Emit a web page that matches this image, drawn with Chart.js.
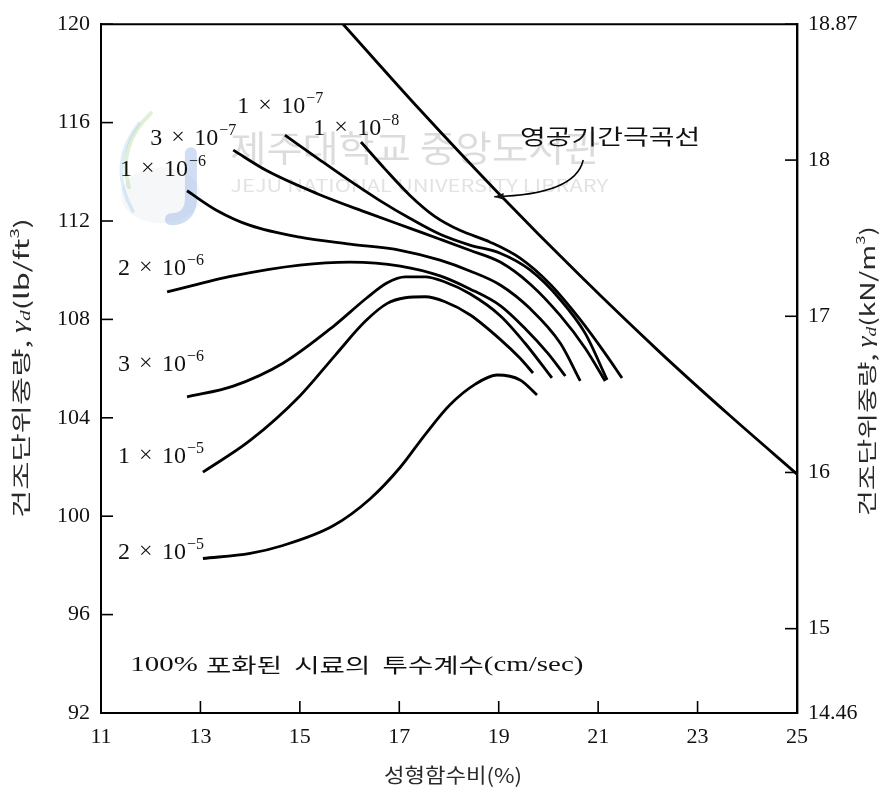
<!DOCTYPE html>
<html><head><meta charset="utf-8">
<script src="https://cdn.jsdelivr.net/npm/chart.js@4.4.0/dist/chart.umd.min.js"></script>
<style>html,body{margin:0;padding:0;background:#fff;}#wrap{width:892px;height:795px;position:relative;}</style>
</head><body><div id="wrap"><canvas id="c" width="892" height="795"></canvas></div>
<script>
// ---- data ----
const xTicks = [11, 13, 15, 17, 19, 21, 23, 25];
const yLeftTicks = [92, 96, 100, 104, 108, 112, 116, 120];
const yRightTicks = [14.46, 15, 16, 17, 18, 18.87];

const zavX = [15.87, 17.42, 18.97, 20.64, 22.25, 23.66, 25.0];
const zavY = [120.0, 116.51, 113.18, 109.77, 106.65, 104.07, 101.71];

const k1e8X = [16.23, 16.71, 17.22, 17.72, 18.22, 18.83, 19.43, 20.03, 20.64, 21.14, 21.48];
const k1e8Y = [115.21, 114.12, 113.03, 112.18, 111.62, 111.14, 110.49, 109.44, 107.99, 106.62, 105.62];

const k1e7X = [14.70, 15.35, 16.01, 16.61, 17.22, 17.82, 18.42, 19.03, 19.63, 20.24, 20.74, 21.18];
const k1e7Y = [115.49, 114.56, 113.63, 112.83, 112.10, 111.46, 111.02, 110.69, 110.01, 108.80, 107.43, 105.54];

const k3e7X = [13.66, 14.34, 15.35, 16.35, 17.22, 17.82, 18.42, 19.03, 19.63, 20.24, 20.74, 21.14];
const k3e7Y = [114.88, 114.04, 113.11, 112.34, 111.70, 111.26, 110.81, 110.33, 109.44, 108.15, 106.83, 105.50];

const k1e6X = [12.73, 13.33, 14.00, 15.00, 16.01, 17.02, 17.82, 18.42, 19.03, 19.63, 20.24, 20.64];
const k1e6Y = [113.23, 112.43, 111.82, 111.34, 111.06, 110.81, 110.41, 109.97, 109.40, 108.44, 107.03, 105.50];

const k2e6X = [12.33, 13.66, 15.00, 16.01, 17.02, 17.82, 18.42, 19.03, 19.53, 19.99, 20.34];
const k2e6Y = [109.12, 109.77, 110.21, 110.33, 110.17, 109.77, 109.24, 108.56, 107.63, 106.62, 105.70];

const k3e6X = [12.73, 13.66, 14.66, 15.67, 16.35, 16.75, 17.12, 17.52, 17.92, 18.42, 19.03, 19.53, 20.07];
const k3e6Y = [104.85, 105.29, 106.22, 107.71, 108.88, 109.48, 109.73, 109.73, 109.52, 109.04, 108.15, 107.03, 105.62];

const k1e5X = [13.05, 14.00, 15.00, 15.71, 16.31, 16.75, 17.12, 17.52, 17.92, 18.42, 19.03, 19.43, 19.69];
const k1e5Y = [101.79, 103.08, 104.89, 106.54, 107.91, 108.64, 108.88, 108.92, 108.72, 108.19, 107.19, 106.42, 105.82];

const k2e5X = [13.05, 14.00, 14.66, 15.67, 16.41, 17.02, 17.52, 18.02, 18.53, 18.97, 19.43, 19.77];
const k2e5Y = [98.28, 98.49, 98.81, 99.61, 100.70, 101.99, 103.32, 104.53, 105.37, 105.74, 105.54, 104.93];

// curve labels: coefficient, exponent
const permLabels = [
  ['1', '7'], ['1', '8'], ['3', '7'], ['1', '6'],
  ['2', '6'], ['3', '6'], ['1', '5'], ['2', '5']
];

// ---- build ----
const pts = (xs, ys) => xs.map((x, i) => ({ x: x, y: ys[i] }));
const series = [
  [zavX, zavY], [k1e8X, k1e8Y], [k1e7X, k1e7Y], [k3e7X, k3e7Y], [k1e6X, k1e6Y],
  [k2e6X, k2e6Y], [k3e6X, k3e6Y], [k1e5X, k1e5Y], [k2e5X, k2e5Y]
];
const datasets = series.map(s => ({
  data: pts(s[0], s[1]),
  showLine: true,
  borderColor: '#000',
  borderWidth: 2.8,
  pointRadius: 0,
  cubicInterpolationMode: 'monotone',
  fill: false
}));

const SERIF = '"Liberation Serif", "Times New Roman", serif';
const KR = '"Noto Sans CJK KR", "Noto Sans", sans-serif';

function measureParts(ctx, parts) {
  let total = 0;
  parts.forEach(p => { ctx.font = p.font; p.w = ctx.measureText(p.t).width; total += p.w + (p.gap || 0); });
  return total;
}
function drawStretched(ctx, parts, x, y, targetW, align) {
  const total = measureParts(ctx, parts);
  const sx = targetW / total;
  ctx.save();
  ctx.translate(x, y);
  ctx.scale(sx, 1);
  let cx = align === 'center' ? -total / 2 : 0;
  parts.forEach(p => {
    ctx.font = p.font;
    ctx.fillText(p.t, cx, p.dy || 0);
    cx += p.w + (p.gap || 0);
  });
  ctx.restore();
}

// label anchor positions (data units), in the same order as permLabels
const permPos = [
  [13.74, 116.70], [15.27, 115.81], [11.99, 115.41], [11.38, 114.16],
  [11.34, 110.13], [11.34, 106.22], [11.34, 102.47], [11.34, 98.57]
];

const decor = {
  id: 'decor',
  beforeDatasetsDraw(chart) {
    const { ctx, scales: { x, y } } = chart;
    ctx.save();
    // faint library logo
    const bx = x.getPixelForValue(11.4), by = y.getPixelForValue(116.3);
    ctx.fillStyle = 'rgba(215,218,228,0.22)';
    ctx.beginPath(); ctx.ellipse(bx + 40, by + 80, 40, 28, 0, 0, Math.PI * 2); ctx.fill();
    ctx.lineCap = 'round';
    ctx.strokeStyle = 'rgba(170,210,140,0.35)';
    ctx.lineWidth = 4;
    ctx.beginPath(); ctx.moveTo(bx + 30, by - 2); ctx.quadraticCurveTo(bx - 4, by + 30, bx + 8, by + 72); ctx.stroke();
    ctx.strokeStyle = 'rgba(150,200,235,0.32)';
    ctx.lineWidth = 3.5;
    ctx.beginPath(); ctx.moveTo(bx + 18, by + 8); ctx.quadraticCurveTo(bx - 14, by + 50, bx + 12, by + 96); ctx.stroke();
    ctx.strokeStyle = 'rgba(120,160,220,0.35)';
    ctx.lineWidth = 12;
    ctx.beginPath();
    ctx.moveTo(bx + 70, by + 38); ctx.lineTo(bx + 70, by + 86);
    ctx.quadraticCurveTo(bx + 68, by + 104, bx + 50, by + 104);
    ctx.stroke();

    ctx.textBaseline = 'middle';
    ctx.fillStyle = 'rgba(150,150,150,0.33)';
    drawStretched(ctx, [{ t: '제주대학교 중앙도서관', font: '36px ' + KR }],
      x.getPixelForValue(13.60), y.getPixelForValue(114.96), 370);
    ctx.fillStyle = 'rgba(150,150,150,0.28)';
    drawStretched(ctx, [{ t: 'JEJU NATIONAL UNIVERSITY LIBRARY', font: '17px ' + KR }],
      x.getPixelForValue(13.60), y.getPixelForValue(113.43), 378);
    ctx.restore();
  },
  afterDraw(chart) {
    const { ctx, chartArea: a, scales: { x, y, y2 } } = chart;
    ctx.save();
    ctx.strokeStyle = '#000';
    ctx.lineWidth = 2;
    ctx.beginPath(); ctx.moveTo(a.left - 1, a.top); ctx.lineTo(a.right + 1, a.top); ctx.stroke();
    ctx.lineWidth = 1.6;
    xTicks.forEach(v => {
      const px = x.getPixelForValue(v);
      ctx.beginPath(); ctx.moveTo(px, a.bottom); ctx.lineTo(px, a.bottom - 12); ctx.stroke();
    });
    yLeftTicks.forEach(v => {
      const py = y.getPixelForValue(v);
      ctx.beginPath(); ctx.moveTo(a.left, py); ctx.lineTo(a.left + 12, py); ctx.stroke();
    });
    yRightTicks.forEach(v => {
      const py = y2.getPixelForValue(v);
      ctx.beginPath(); ctx.moveTo(a.right, py); ctx.lineTo(a.right - 12, py); ctx.stroke();
    });

    // permeability labels
    ctx.fillStyle = '#111';
    ctx.textBaseline = 'alphabetic';
    permLabels.forEach((l, i) => {
      const px = x.getPixelForValue(permPos[i][0]);
      const py = y.getPixelForValue(permPos[i][1]) + 8;
      ctx.font = '24px ' + SERIF;
      ctx.fillText(l[0], px, py);
      ctx.fillText('×', px + 21, py - 1);
      ctx.fillText('10', px + 44, py);
      ctx.font = '16px ' + SERIF;
      ctx.fillText('−' + l[1], px + 69, py - 10);
    });

    // note text
    ctx.textBaseline = 'middle';
    drawStretched(ctx, [
      { t: '100%', font: '21px ' + SERIF, gap: 6 },
      { t: '포화된  시료의  투수계수', font: '20px ' + KR },
      { t: '(cm/sec)', font: '21px ' + SERIF }
    ], x.getPixelForValue(11.59), y.getPixelForValue(93.95), 453);

    // zero-air-void label + arrow
    drawStretched(ctx, [{ t: '영공기간극곡선', font: '21px ' + KR }],
      x.getPixelForValue(19.43), y.getPixelForValue(115.45), 180);
    const sx = x.getPixelForValue(20.70), sy = y.getPixelForValue(114.48);
    const cxp = x.getPixelForValue(20.54), cyp = y.getPixelForValue(113.07);
    const ex = x.getPixelForValue(18.91), ey = y.getPixelForValue(112.99);
    ctx.lineWidth = 1.5;
    ctx.beginPath(); ctx.moveTo(sx, sy); ctx.quadraticCurveTo(cxp, cyp, ex, ey); ctx.stroke();
    const ang = Math.atan2(ey - cyp, ex - cxp);
    ctx.beginPath();
    ctx.moveTo(ex, ey);
    ctx.lineTo(ex - 10 * Math.cos(ang - 0.35), ey - 10 * Math.sin(ang - 0.35));
    ctx.lineTo(ex - 10 * Math.cos(ang + 0.35), ey - 10 * Math.sin(ang + 0.35));
    ctx.closePath(); ctx.fill();

    // axis titles
    ctx.fillStyle = '#2a2a2a';
    ctx.textBaseline = 'middle';
    const titleParts = unit => [
      { t: '건조단위중량, ', font: '20px ' + KR },
      { t: 'γ', font: 'italic 20px ' + SERIF },
      { t: 'd', font: 'italic 14px ' + SERIF, dy: 5 },
      { t: '(' + unit, font: '20px ' + KR },
      { t: '3', font: '12px ' + KR, dy: -7 },
      { t: ')', font: '20px ' + KR }
    ];
    ctx.save();
    ctx.translate(21, 368);
    ctx.rotate(-Math.PI / 2);
    drawStretched(ctx, titleParts('lb/ft'), 0, 0, 300, 'center');
    ctx.restore();
    ctx.save();
    ctx.translate(867, 371);
    ctx.rotate(-Math.PI / 2);
    drawStretched(ctx, titleParts('kN/m'), 0, 0, 290, 'center');
    ctx.restore();
    drawStretched(ctx, [{ t: '성형함수비(%)', font: '20px ' + KR }], 453, 775, 138, 'center');
    ctx.restore();
  }
};

const tickFont = { family: SERIF, size: 22 };
new Chart(document.getElementById('c'), {
  type: 'scatter',
  data: { datasets: datasets },
  plugins: [decor],
  options: {
    responsive: false,
    animation: false,
    layout: { padding: { top: 18, left: 0, right: 0, bottom: 0 } },
    plugins: { legend: { display: false }, tooltip: { enabled: false } },
    scales: {
      x: {
        type: 'linear', position: 'bottom', min: 11, max: 25,
        afterBuildTicks: s => { s.ticks = xTicks.map(v => ({ value: v })); },
        afterFit: s => { s.height = 82; },
        grid: { display: false, drawTicks: false },
        border: { display: true, color: '#000', width: 2 },
        ticks: { font: tickFont, color: '#111', padding: 11, maxRotation: 0, autoSkip: false }
      },
      y: {
        type: 'linear', position: 'left', min: 92, max: 120,
        afterBuildTicks: s => { s.ticks = yLeftTicks.map(v => ({ value: v })); },
        afterFit: s => { s.width = 101; },
        grid: { display: false, drawTicks: false },
        border: { display: true, color: '#000', width: 2 },
        ticks: { font: tickFont, color: '#111', padding: 11, autoSkip: false }
      },
      y2: {
        type: 'linear', position: 'right', min: 14.46, max: 18.87,
        afterBuildTicks: s => { s.ticks = yRightTicks.map(v => ({ value: v })); },
        afterFit: s => { s.width = 95; },
        grid: { display: false, drawTicks: false },
        border: { display: true, color: '#000', width: 2.4 },
        ticks: { font: tickFont, color: '#111', padding: 11, autoSkip: false, callback: v => String(v) }
      }
    }
  }
});
</script></body></html>
